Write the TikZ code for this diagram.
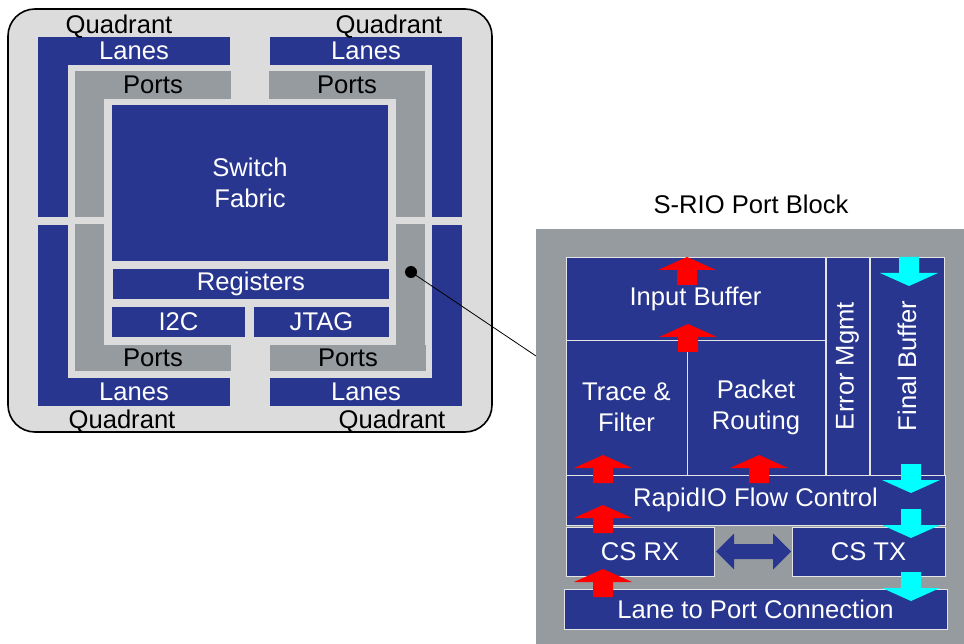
\documentclass[tikz,border=0pt]{standalone}
\usepackage{fontspec}
\setmainfont{Liberation Sans}
\usepackage{xcolor}
\definecolor{srioblue}{HTML}{283690}
\definecolor{portgray}{HTML}{969BA0}
\definecolor{chipgray}{HTML}{DCDCDC}
\definecolor{edgegray}{HTML}{E4E4E4}
\definecolor{flowred}{RGB}{255,0,0}
\definecolor{flowcyan}{RGB}{0,255,255}

\begin{document}
\begin{tikzpicture}[x=1pt, y=-1pt, inner sep=0pt, outer sep=0pt]
		\tikzstyle{every node}=[align=center, font=\fontsize{25.6}{30.5}\selectfont]
		\tikzstyle{lane}=[fill=srioblue, text=white, anchor=north west]
		\tikzstyle{port}=[fill=portgray, text=black, anchor=north west]
		\tikzstyle{unit}=[fill=srioblue, text=white, anchor=north west, draw=edgegray, line width=0.8pt]
		\useasboundingbox (0,0) rectangle (964,644);

		% switch chip
		\node[draw, line width=1.6pt, fill=chipgray, rounded corners=27pt, minimum width=484pt, minimum height=423pt, anchor=north west] (chip) at (8,9) {};

		\node[lane, minimum width=192pt, minimum height=28pt] (lanesTL) at (38,37) {Lanes};
		\node[lane, minimum width=192pt, minimum height=28pt] (lanesTR) at (270,37) {Lanes};
		\node[lane, minimum width=192pt, minimum height=28pt] (lanesBL) at (38,378) {Lanes};
		\node[lane, minimum width=192pt, minimum height=28pt] (lanesBR) at (270,378) {Lanes};
		\fill[srioblue] (38,65) rectangle (68,217);
		\fill[srioblue] (432,65) rectangle (462,217);
		\fill[srioblue] (38,225) rectangle (68,378);
		\fill[srioblue] (432,225) rectangle (462,378);

		\node[port, minimum width=156pt, minimum height=28pt] (portsTL) at (75,71) {Ports};
		\node[port, minimum width=156pt, minimum height=28pt] (portsTR) at (269,71) {Ports};
		\node[port, minimum width=156pt, minimum height=26pt] (portsBL) at (75,345) {Ports};
		\node[port, minimum width=156pt, minimum height=26pt] (portsBR) at (270,345) {Ports};
		\fill[portgray] (75,99) rectangle (104,217);
		\fill[portgray] (396,99) rectangle (425,217);
		\fill[portgray] (75,224) rectangle (104,345);
		\fill[portgray] (396,224) rectangle (425,345);

		\node (quadTL) at (119,27) {Quadrant};
		\node (quadTR) at (389,27) {Quadrant};
		\node (quadBL) at (122,422) {Quadrant};
		\node (quadBR) at (392,422) {Quadrant};

		\node[lane, minimum width=276pt, minimum height=156pt] (fabric) at (112,105) {Switch\\Fabric};
		\node[lane, minimum width=276pt, minimum height=30pt] (registers) at (113,269) {Registers};
		\node[lane, minimum width=133pt, minimum height=30pt] (i2c) at (112,307) {I2C};
		\node[lane, minimum width=135pt, minimum height=30pt] (jtag) at (254,307) {JTAG};

		\coordinate (blockedge) at (536,356);
		\draw[line width=0.8pt] (411,272) -- (blockedge);
		\node[circle, fill=black, minimum size=12pt] (probe) at (411,272) {};

		% port block
		\node (title) at (751,204) {S-RIO Port Block};
		\node[fill=portgray, anchor=north west, minimum width=428pt, minimum height=415pt] (portblock) at (536,229) {};

		\node[unit, minimum width=259pt, minimum height=83pt] (inbuf) at (566,257) {Input Buffer};
		\node[unit, minimum width=121pt, minimum height=135pt] (trace) at (566,340) {Trace \&\\Filter};
		\node[unit, minimum width=138pt, minimum height=135pt] (routing) at (687,340) {Packet\\Routing};
		\node[unit, minimum width=43pt, minimum height=218pt] (errmgmt) at (826,257) {};
		\node[unit, minimum width=74pt, minimum height=218pt] (finalbuf) at (870,257) {};
		\node[text=white, rotate=90] (errtext) at (errmgmt.center) {Error Mgmt};
		\node[text=white, rotate=90] (finaltext) at (finalbuf.center) {Final Buffer};
		\node[unit, minimum width=379pt, minimum height=50pt] (flow) at (566,475) {RapidIO Flow Control};
		\node[unit, minimum width=148pt, minimum height=49pt] (csrx) at (566,527) {CS RX};
		\node[unit, minimum width=153pt, minimum height=49pt] (cstx) at (792,527) {CS TX};
		\node[unit, minimum width=383pt, minimum height=40pt] (lane2port) at (564,589) {Lane to Port Connection};

		\fill[srioblue] ([xshift=2pt]csrx.east) -- ++(18,-18) -- ++(0,10.5) -- ++(39,0) -- ++(0,-10.5) -- ++(18,18)
			-- ++(-18,18) -- ++(0,-10.5) -- ++(-39,0) -- ++(0,10.5) -- cycle;

		\foreach \x/\y in {687/257, 688/324, 603/455, 759/455, 603/505, 603/569}
			\fill[flowred] (\x,\y) -- ++(29,13) -- ++(-19,0) -- ++(0,15) -- ++(-20,0) -- ++(0,-15) -- ++(-19,0) -- cycle;
		\foreach \x/\y in {909/286, 911/493, 911/538, 911/601}
			\fill[flowcyan] (\x,\y) -- ++(29,-13) -- ++(-19,0) -- ++(0,-16) -- ++(-20,0) -- ++(0,16) -- ++(-19,0) -- cycle;
\end{tikzpicture}
\end{document}
